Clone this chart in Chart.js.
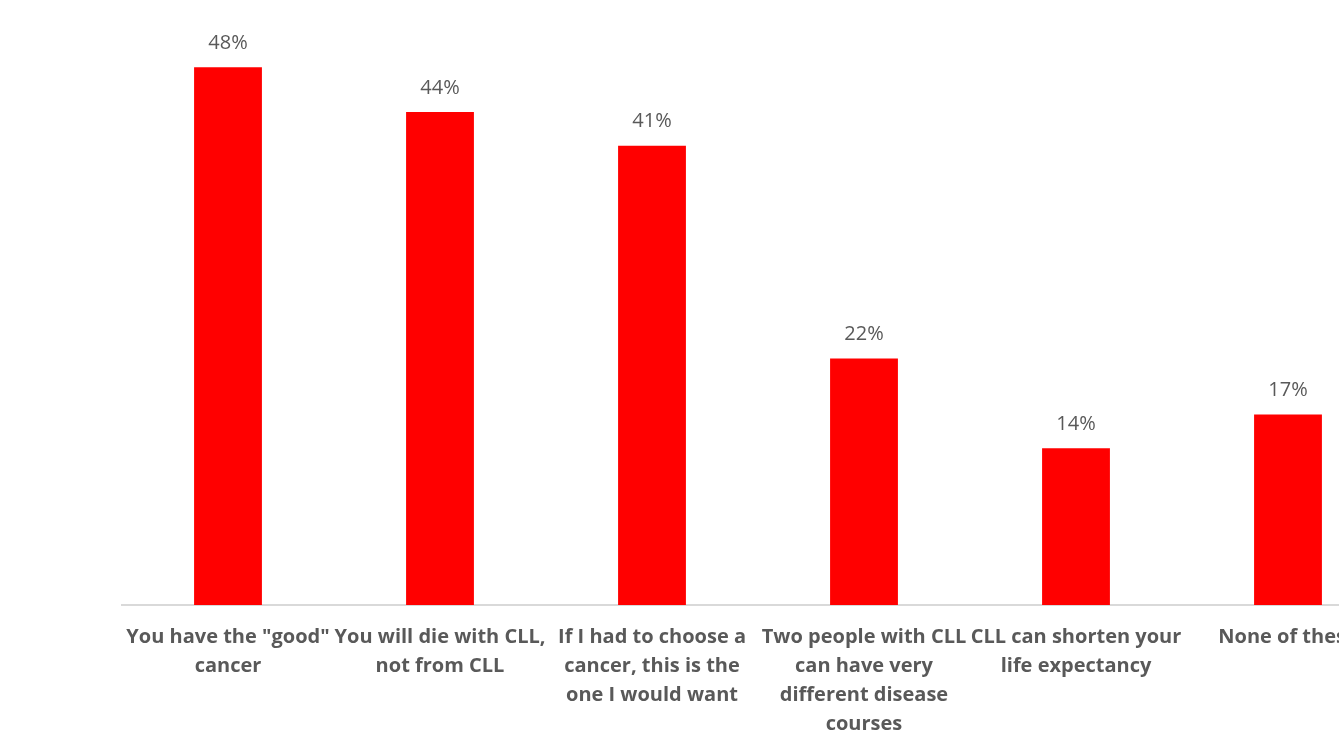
<!DOCTYPE html>
<html>
<head>
<meta charset="utf-8">
<script src="https://cdn.jsdelivr.net/npm/chart.js@4.4.1/dist/chart.umd.min.js"></script>
<style>
  html, body { margin: 0; padding: 0; background: #fff; overflow: hidden; }
  #wrap { width: 1400px; height: 730px; position: relative; }
</style>
</head>
<body>
<div id="wrap"><canvas id="myChart"></canvas></div>
<script>
var categories = [
    ['You have the "good"', 'cancer'],
    ['You will die with CLL,', 'not from CLL'],
    ['If I had to choose a', 'cancer, this is the', 'one I would want'],
    ['Two people with CLL', 'can have very', 'different disease', 'courses'],
    ['CLL can shorten your', 'life expectancy'],
    ['None of these']
];
var percents = [48, 44, 41, 22, 14, 17];

var fontName = '"Open Sans", sans-serif';

// draws the % label above every bar
const barLabels = {
    id: 'barLabels',
    afterDatasetsDraw(chart) {
        const ctx = chart.ctx;
        const meta = chart.getDatasetMeta(0);
        ctx.save();
        ctx.font = '20px ' + fontName;
        ctx.fillStyle = '#595959';
        ctx.textAlign = 'center';
        ctx.textBaseline = 'middle';
        meta.data.forEach(function (bar, i) {
            ctx.fillText(percents[i] + '%', bar.x, bar.y - 24);
        });
        ctx.restore();
    }
};

const chart = new Chart("myChart", {
    type: "bar",
    data: {
        labels: categories,
        datasets: [{
            data: percents,
            backgroundColor: "#ff0000",
            borderWidth: 0,
            categoryPercentage: 0.8,
            barPercentage: 0.4
        }]
    },
    options: {
        responsive: true,
        maintainAspectRatio: false,
        animation: false,
        layout: { padding: { left: 122, right: 6, top: 0, bottom: 0 } },
        plugins: {
            legend: { display: false },
            tooltip: { enabled: false }
        },
        scales: {
            x: {
                grid: { display: false, drawTicks: false },
                border: { display: true, color: '#d9d9d9', width: 2 },
                ticks: {
                    autoSkip: false,
                    maxRotation: 0,
                    padding: 18,
                    color: '#595959',
                    font: { family: fontName, size: 20, weight: 'bold', lineHeight: 1.45 }
                },
                afterFit: function (scale) { scale.height = 125; }
            },
            y: {
                display: false,
                min: 0,
                max: 54
            }
        }
    },
    plugins: [barLabels]
});
</script>
</body>
</html>
